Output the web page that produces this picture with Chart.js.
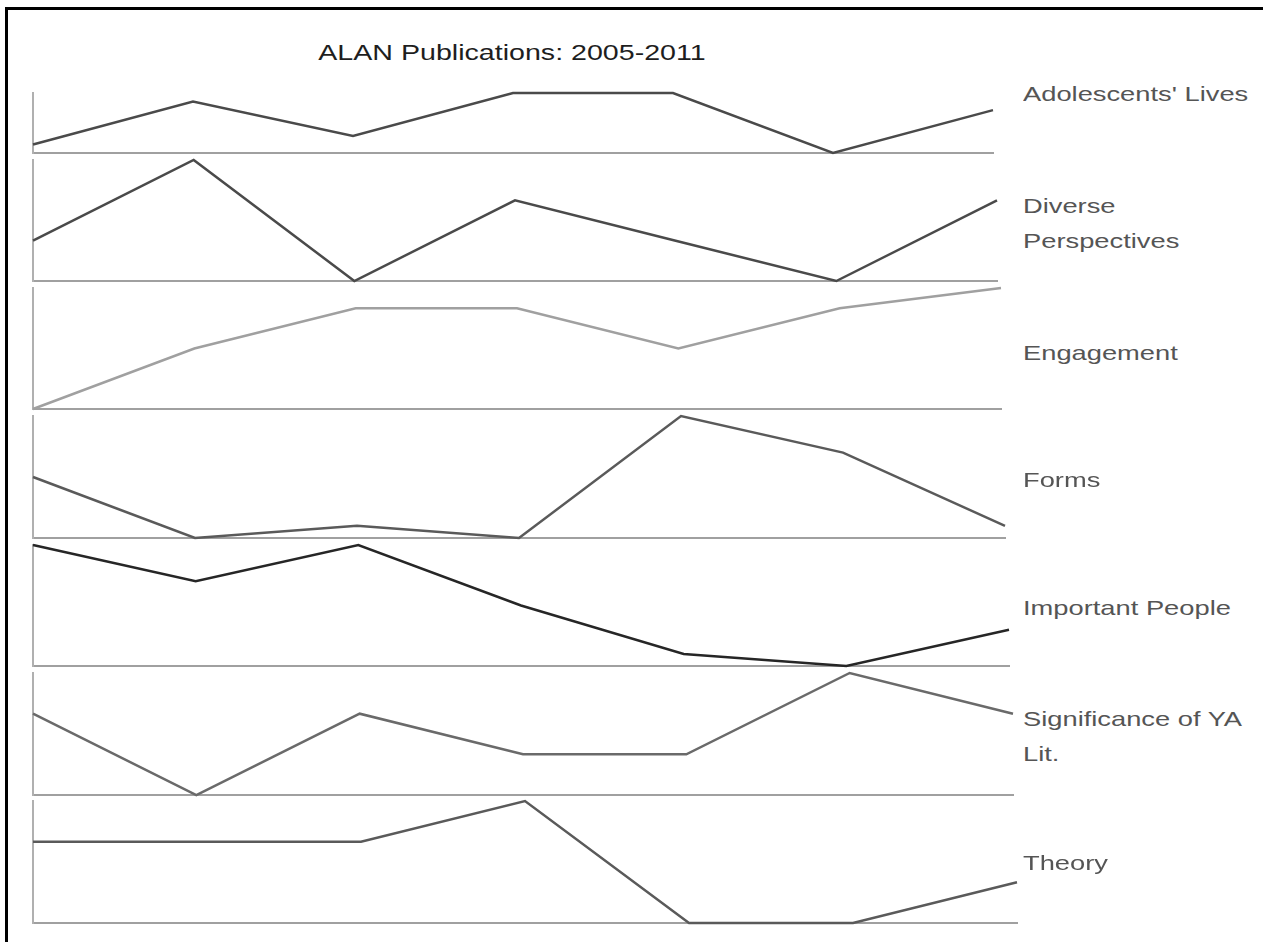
<!DOCTYPE html>
<html>
<head>
<meta charset="utf-8">
<script src="https://cdn.jsdelivr.net/npm/chart.js@4/dist/chart.umd.min.js"></script>
<style>
  html, body { margin: 0; padding: 0; background: #fff; overflow: hidden; }
  body { width: 1263px; height: 942px; position: relative; font-family: "Liberation Sans", Arial, sans-serif; }
  .frame { position: absolute; left: 5px; top: 7px; right: 0; bottom: 0; border-left: 3px solid #000; border-top: 3px solid #000; }
  .title { position: absolute; left: 0; width: 1024px; top: 36px; text-align: center; font-size: 22px; line-height: 34px; color: #1e1e1e; transform: scaleX(1.3); transform-origin: 512px 0; }
  .label { position: absolute; left: 1023px; font-size: 21px; line-height: 35px; color: #555; white-space: pre; transform: scaleX(1.3); transform-origin: 0 0; }
  .panel { position: absolute; }
</style>
</head>
<body>
<div class="frame"></div>
<div class="title">ALAN Publications: 2005-2011</div>
<div id="panels"></div>
<script>
// years on the x axis
const years = ['2005', '2006', '2007', '2008', '2009', '2010', '2011'];

// one series per panel, top to bottom
const seriesNames = ["Adolescents' Lives", 'Diverse\nPerspectives', 'Engagement', 'Forms', 'Important People', 'Significance of YA\nLit.', 'Theory'];
const adolescentsLives = [1, 6, 2, 7, 7, 0, 5];
const diversePerspectives = [1, 3, 0, 2, 1, 0, 2];
const engagement = [0, 3, 5, 5, 3, 5, 6];
const forms = [5, 0, 1, 0, 10, 7, 1];
const importantPeople = [10, 7, 10, 5, 1, 0, 3];
const significanceYALit = [2, 0, 2, 1, 1, 3, 2];
const theory = [2, 2, 2, 3, 0, 0, 1];
const seriesData = [adolescentsLives, diversePerspectives, engagement, forms, importantPeople, significanceYALit, theory];

// line colours per panel
const lineColors = ['#4a4a4a', '#4a4a4a', '#a0a0a0', '#5a5a5a', '#262626', '#6a6a6a', '#5a5a5a'];

// panel plot boxes (page pixels)
const panelTops = [93, 160, 288, 416, 545, 673, 801];
const panelBottoms = [153, 281, 409, 538, 666, 795, 923];
const panelRights = [993, 997, 1001, 1005, 1009, 1013, 1017];
const labelCenters = [93, 205, 352, 479, 607, 718, 862];
const plotLeft = 33;
const padX = 10, padY = 6;

const holder = document.getElementById('panels');

seriesData.forEach((data, i) => {
  const w = panelRights[i] - plotLeft + padX * 2;
  const h = panelBottoms[i] - panelTops[i] + padY * 2;

  const box = document.createElement('div');
  box.className = 'panel';
  box.style.left = (plotLeft - padX) + 'px';
  box.style.top = (panelTops[i] - padY) + 'px';
  box.style.width = w + 'px';
  box.style.height = h + 'px';
  const canvas = document.createElement('canvas');
  box.appendChild(canvas);
  holder.appendChild(box);

  const label = document.createElement('div');
  label.className = 'label';
  label.textContent = seriesNames[i];
  label.style.top = (labelCenters[i] - 17.5) + 'px';
  document.body.appendChild(label);

  new Chart(canvas.getContext('2d'), {
    type: 'line',
    data: {
      labels: years,
      datasets: [{
        label: seriesNames[i],
        data: data,
        borderColor: lineColors[i],
        borderWidth: 2.5,
        pointRadius: 0,
        tension: 0,
        fill: false,
        clip: 6
      }]
    },
    options: {
      responsive: true,
      maintainAspectRatio: false,
      animation: false,
      layout: { padding: { left: padX, right: padX, top: padY, bottom: padY } },
      plugins: {
        legend: { display: false },
        title: { display: false },
        tooltip: { enabled: false }
      },
      scales: {
        x: {
          offset: false,
          grid: { display: false, drawTicks: false },
          ticks: { display: false },
          border: { display: true, color: '#a0a0a0', width: 2 }
        },
        y: {
          min: 0,
          max: Math.max(...data),
          grid: { display: false, drawTicks: false },
          ticks: { display: false },
          border: { display: true, color: '#b0b0b0', width: 2 }
        }
      }
    }
  });
});
</script>
</body>
</html>
